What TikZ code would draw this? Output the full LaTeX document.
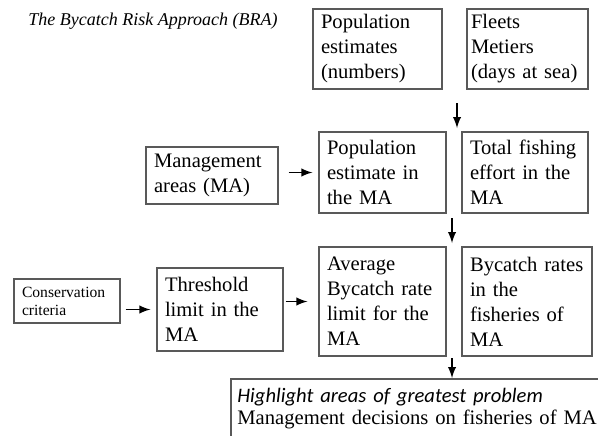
\documentclass[tikz,border=0pt]{standalone}
\usepackage{fontspec}
\setmainfont{Liberation Serif}
\newfontfamily\calibrifont{Carlito}
\begin{document}
\begin{tikzpicture}[
  x=0.5pt, y=-0.5pt,
  box/.style 2 args={rectangle, draw=black!65, line width=0.6pt, align=left, inner xsep=4pt, inner ysep=0pt,
    text width=#1-8pt, minimum height=#2, font=\fontsize{10.3}{12.5}\selectfont},
  arr/.style={-latex, line width=0.9pt},
  font=\small
]
\useasboundingbox (0,0) rectangle (598,435);
\clip (0,0) rectangle (598,435);

\node[anchor=base west, inner sep=0pt, font=\fontsize{9}{11}\selectfont\itshape] (title) at (28,25) {The Bycatch Risk Approach (BRA)};

\node[box={64.5pt}{40pt}] (popest) at (377.5,49) {Population\\estimates\\(numbers)};
\node[box={60.5pt}{40pt}, inner xsep=2pt, text width=56.5pt] (fleets) at (527.5,49) {Fleets\\Metiers\\(days~at~sea)};

\node[box={66pt}{28.5pt}] (mgmt) at (212,175.5) {Management\\areas (MA)};
\node[box={63.5pt}{40.5pt}] (popma) at (382.5,172.5) {Population\\estimate in\\the MA};
\node[box={63pt}{40.5pt}] (effort) at (525,172.5) {Total fishing\\effort in the\\MA};

\node[box={53pt}{22pt}, font=\fontsize{7.8}{9}\selectfont] (crit) at (67,301) {Conservation\\criteria};
\node[box={63pt}{41.5pt}] (thresh) at (220,309.5) {Threshold\\limit in the\\MA};
\node[box={63.5pt}{54.5pt}] (avgrate) at (382.5,301.5) {Average\\Bycatch rate\\limit for the\\MA};
\node[box={65pt}{54.5pt}] (fishrate) at (527,301.5) {Bycatch rates\\in the\\fisheries of\\MA};

\node[anchor=north west, align=left, inner xsep=3pt, inner ysep=4.5pt, text width=200pt,
  font=\fontsize{10.3}{11}\selectfont] (decide) at (231,379)
  {{\calibrifont\itshape Highlight areas of greatest problem}\\Management decisions on fisheries of MA};
\draw[draw=black!65, line width=0.6pt] (decide.north east) -| ([yshift=-10pt]decide.south west);

% vertical arrows between the rows
\coordinate (down1a) at (457,103);
\coordinate (down1b) at (457,128);
\coordinate (down2a) at (452,218);
\coordinate (down2b) at (452,243);
\coordinate (down3a) at (452,358);
\coordinate (down3b) at (452,378);
\draw[arr] (down1a) -- (down1b);
\draw[arr] (down2a) -- (down2b);
\draw[arr] (down3a) -- (down3b);

\draw[arr, shorten <=5pt, shorten >=3pt] (mgmt.east |- popma.west) -- (popma.west);
\draw[arr, shorten <=2.5pt, shorten >=3pt] (thresh.west -| crit.east) -- (thresh.west);
\draw[arr, shorten <=1pt, shorten >=5.5pt] (thresh.east |- avgrate.west) -- (avgrate.west);
\end{tikzpicture}
\end{document}
